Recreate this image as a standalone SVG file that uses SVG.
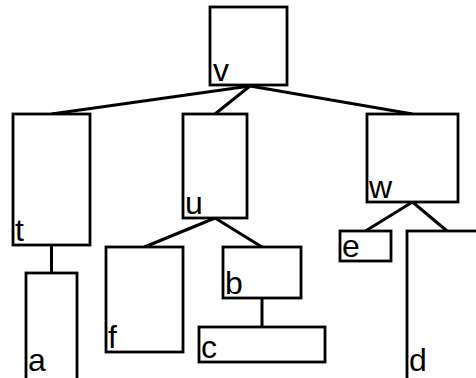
<svg xmlns="http://www.w3.org/2000/svg" width="476" height="378" viewBox="0 0 476 378">
  <style>
    .box { fill: #fff; stroke: #000; stroke-width: 2.8; }
    .edge { stroke: #000; stroke-width: 3; fill: none; }
    .lbl { font-family: "Liberation Sans", Arial, sans-serif; font-size: 32px; fill: #000; }
  </style>
  <rect width="476" height="378" fill="#fff"/>
  <g id="connectors">
    <line class="edge" x1="250" y1="86" x2="51.5" y2="114"/>
    <line class="edge" x1="250" y1="86" x2="215" y2="114"/>
    <line class="edge" x1="250" y1="86" x2="412.5" y2="114"/>
    <line class="edge" x1="51.5" y1="245" x2="51.5" y2="273"/>
    <line class="edge" x1="215" y1="218" x2="144.5" y2="247"/>
    <line class="edge" x1="215" y1="218" x2="262" y2="247"/>
    <line class="edge" x1="262" y1="298" x2="262" y2="327"/>
    <line class="edge" x1="412.5" y1="202" x2="365.5" y2="231"/>
    <line class="edge" x1="412.5" y1="202" x2="447" y2="231"/>
  </g>
  <g id="node-v">
    <rect class="box" x="210" y="7" width="77" height="78"/>
    <text class="lbl" x="213" y="81">v</text>
  </g>
  <g id="node-t">
    <rect class="box" x="13" y="114" width="77" height="131"/>
    <text class="lbl" x="15" y="241">t</text>
  </g>
  <g id="node-u">
    <rect class="box" x="183" y="114" width="64" height="104"/>
    <text class="lbl" x="185" y="214">u</text>
  </g>
  <g id="node-w">
    <rect class="box" x="367" y="114" width="91" height="88"/>
    <text class="lbl" x="369" y="198">w</text>
  </g>
  <g id="node-a">
    <rect class="box" x="26" y="273" width="51" height="115"/>
    <text class="lbl" x="28" y="371">a</text>
  </g>
  <g id="node-f">
    <rect class="box" x="106" y="247" width="77" height="105"/>
    <text class="lbl" x="108" y="348">f</text>
  </g>
  <g id="node-b">
    <rect class="box" x="223" y="247" width="78" height="51"/>
    <text class="lbl" x="225" y="294">b</text>
  </g>
  <g id="node-c">
    <rect class="box" x="199" y="327" width="126" height="35"/>
    <text class="lbl" x="201" y="358">c</text>
  </g>
  <g id="node-e">
    <rect class="box" x="340" y="231" width="51" height="30"/>
    <text class="lbl" x="342" y="257">e</text>
  </g>
  <g id="node-d">
    <rect class="box" x="407" y="231" width="80" height="160"/>
    <text class="lbl" x="409" y="371">d</text>
  </g>
</svg>
